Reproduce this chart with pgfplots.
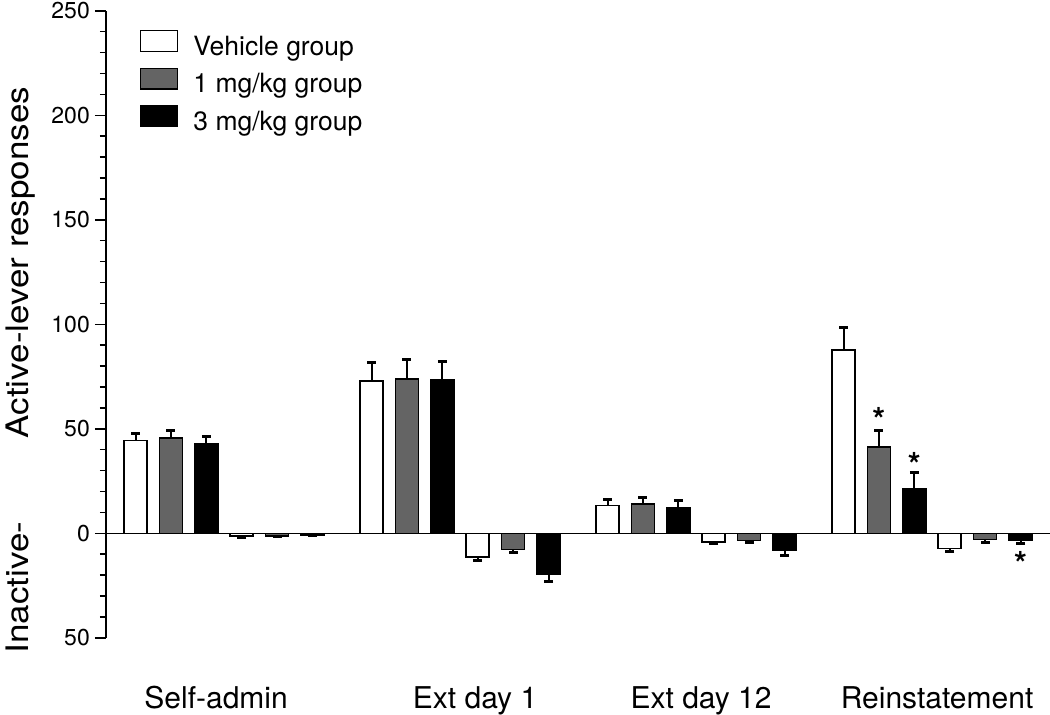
\documentclass[border=0pt]{standalone}
\usepackage{fontspec}
\setmainfont{TeX Gyre Heros}
\usepackage{graphicx}
\usepackage{pgfplots}
\usepackage{pgfplotstable}
\pgfplotsset{compat=1.18}
\definecolor{midgray}{RGB}{100,100,100}
\newcommand\tl[1]{\mbox{\fontsize{23}{23}\selectfont #1}}

% x = group index + offset of bar inside group
\pgfplotstableread{
x y e
-0.375 44.3 3.5
0.625 72.9 8.9
1.625 13.2 2.9
2.625 87.7 10.8
}\vehpos
\pgfplotstableread{
x y e
-0.225 45.7 3.4
0.775 73.8 9.4
1.775 13.9 3.3
2.775 41.4 7.7
}\onepos
\pgfplotstableread{
x y e
-0.075 43.0 3.2
0.925 73.5 8.6
1.925 12.4 3.4
2.925 21.5 7.5
}\threepos
\pgfplotstableread{
x y e
0.075 -1.3 0.5
1.075 -11.3 1.8
2.075 -4.1 1.0
3.075 -7.3 1.6
}\vehneg
\pgfplotstableread{
x y e
0.225 -1.2 0.5
1.225 -7.7 1.6
2.225 -3.5 0.8
3.225 -3.0 1.6
}\oneneg
\pgfplotstableread{
x y e
0.375 -0.8 0.4
1.375 -19.6 3.7
2.375 -8.1 2.4
3.375 -3.2 1.5
}\threeneg

\pgfplotsset{
  mybar/.style={ybar, bar width=23pt, bar shift=0pt, draw=black, line width=1.5pt},
  myerr/.style={error bars/.cd, y dir=#1, y explicit,
    error bar style={line width=2pt, black},
    error mark options={rotate=90, line width=3pt, mark size=4.5pt, black}},
}

\begin{document}
\begin{tikzpicture}
\useasboundingbox (0,0) rectangle (1050pt,715pt);
\begin{axis}[
  at={(106pt,77.2pt)}, anchor=south west,
  scale only axis, width=944pt, height=627pt,
  xmin=-0.5, xmax=3.5, ymin=-50, ymax=250,
  axis x line=none, axis y line=left,
  y axis line style={-, line width=1.5pt},
  ytick={-50,0,50,100,150,200,250},
  yticklabels={\tl{50},\tl{0},\tl{50},\tl{100},\tl{150},\tl{200},\tl{250}},
  minor y tick num=4,
  tick align=outside,
  major tick length=11pt, minor tick length=6pt,
  tick style={black, line width=1.5pt},
  /pgf/number format/assume math mode=true,
  yticklabel style={inner sep=0pt, anchor=east, xshift=-5pt},
  clip=false,
  legend cell align=left,
  legend style={at={(axis description cs:0.036,0.9694)}, anchor=north west,
    draw=none, fill=none, inner sep=0pt, outer sep=0pt, row sep=6.5pt, column sep=15pt,
    font=\fontsize{26.5}{26.5}\selectfont,
    nodes={inner sep=0pt, text height=18pt, text depth=6pt}},
  legend image code/.code={\draw[#1, line width=1.5pt] (0pt,-2.4pt) rectangle (37pt,18.3pt);},
]
\addplot[black, line width=1.5pt, forget plot] coordinates {(-0.5,0) (3.5,0)};

\addplot[mybar, fill=white, myerr=plus] table[x=x, y=y, y error=e] {\vehpos};
\addlegendentry{Vehicle group}
\addplot[mybar, fill=midgray, myerr=plus] table[x=x, y=y, y error=e] {\onepos};
\addlegendentry{1 mg/kg group}
\addplot[mybar, fill=black, myerr=plus] table[x=x, y=y, y error=e] {\threepos};
\addlegendentry{3 mg/kg group}

\addplot[mybar, fill=white, forget plot, myerr=minus] table[x=x, y=y, y error=e] {\vehneg};
\addplot[mybar, fill=midgray, forget plot, myerr=minus] table[x=x, y=y, y error=e] {\oneneg};
\addplot[mybar, fill=black, forget plot, myerr=minus] table[x=x, y=y, y error=e] {\threeneg};

\node[anchor=north, inner sep=0pt, font=\fontsize{33}{33}\selectfont\bfseries] at (axis cs:2.775,60.5) {*};
\node[anchor=north, inner sep=0pt, font=\fontsize{33}{33}\selectfont\bfseries] at (axis cs:2.925,38.9) {*};
\node[anchor=north, inner sep=0pt, font=\fontsize{33}{33}\selectfont\bfseries] at (axis cs:3.375,-8.4) {*};

\node[anchor=base, font=\fontsize{30}{30}\selectfont] at ([yshift=-70.2pt]axis cs:-0.0335,-50) {Self-admin};
\node[anchor=base, font=\fontsize{30}{30}\selectfont] at ([yshift=-70.2pt]axis cs:1.064,-50) {Ext day 1};
\node[anchor=base, font=\fontsize{30}{30}\selectfont] at ([yshift=-70.2pt]axis cs:2.0216,-50) {Ext day 12};
\node[anchor=base, font=\fontsize{30}{30}\selectfont] at ([yshift=-70.2pt]axis cs:3.0216,-50) {Reinstatement};
\end{axis}
\node[rotate=90, anchor=base, inner sep=0pt, font=\fontsize{31}{31}\selectfont] at (28.3pt,452.5pt) {\scalebox{1.13}[1]{Active-lever responses}};
\node[rotate=90, anchor=base, inner sep=0pt, font=\fontsize{31}{31}\selectfont] at (28.3pt,127.5pt) {\scalebox{1.13}[1]{Inactive-}};
\end{tikzpicture}
\end{document}
